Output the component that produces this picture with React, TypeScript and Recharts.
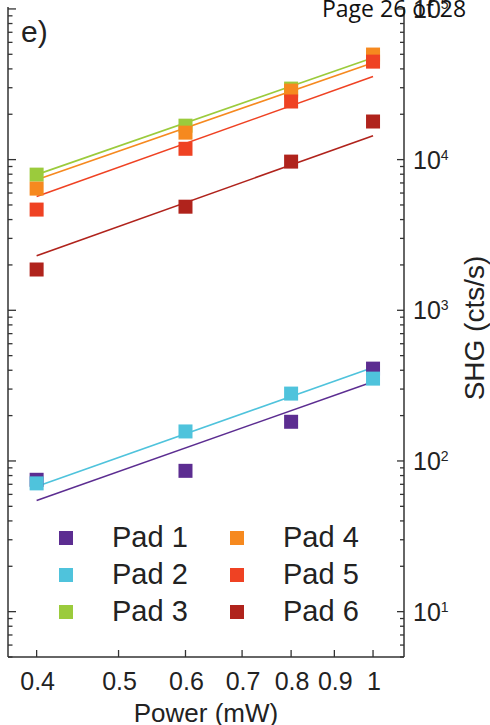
import { ComposedChart, Legend, Line, Scatter, XAxis, YAxis } from "recharts";

// measured powers (mW)
const powers = [0.4, 0.6, 0.8, 1];
// SHG counts per pad (cts/s)
const pad1 = [75, 86, 182, 410];
const pad2 = [71, 157, 280, 352];
const pad3 = [7950, 16800, 29600, 47500];
const pad4 = [6420, 15100, 28700, 49800];
const pad5 = [4660, 11800, 24300, 44700];
const pad6 = [1865, 4870, 9700, 17900];

// fit lines, drawn from the first to the last power
const fitPowers = [0.4, 1];
const fit1 = [54.6, 336];
const fit2 = [67.6, 417];
const fit3 = [7950, 47500];
const fit4 = [7360, 44000];
const fit5 = [5690, 35600];
const fit6 = [2300, 14400];

const names = ["Pad 1", "Pad 2", "Pad 3", "Pad 4", "Pad 5", "Pad 6"];
const colors = ["#5c2d91", "#4fc3dc", "#9bcb3c", "#f6891f", "#ef4223", "#b0231c"];

const xTicks = [0.4, 0.5, 0.6, 0.7, 0.8, 0.9, 1];
const yDecades = [10, 100, 1000, 10000, 100000];
const yMinorSteps = [2, 3, 4, 5, 6, 7, 8, 9];

const X_DOMAIN = [0.37, 1.088];
const Y_DOMAIN = [5, 103000];

const yTicks = [
  ...yDecades,
  ...[1, ...yDecades].flatMap((d) => yMinorSteps.map((m) => m * d)),
].filter((v) => v >= Y_DOMAIN[0] && v <= Y_DOMAIN[1]);

const toPoints = (xs: number[], ys: number[]) => xs.map((x, i) => ({ x, y: ys[i] }));

const pads = [pad1, pad2, pad3, pad4, pad5, pad6].map((ys) => toPoints(powers, ys));
const fits = [fit1, fit2, fit3, fit4, fit5, fit6].map((ys) => toPoints(fitPowers, ys));

const FONT = "'Liberation Sans', Arial, sans-serif";
const AXIS = "#333";

const isDecade = (v: number) => Math.abs(Math.log10(v) - Math.round(Math.log10(v))) < 1e-6;

const XTick = ({ x, y, payload }: any) => (
  <g>
    <line x1={x} x2={x} y1={y - 7} y2={y} stroke={AXIS} strokeWidth={1.3} />
    <text x={x + 1} y={y + 33} textAnchor="middle" fontSize={25} fontFamily={FONT} fill="#222">
      {String(payload.value)}
    </text>
  </g>
);

const RightTick = ({ x, y, payload }: any) => {
  const major = isDecade(payload.value);
  return (
    <g>
      <line x1={x - (major ? 7 : 4)} x2={x} y1={y} y2={y} stroke={AXIS} strokeWidth={1.3} />
      {major && (
        <text x={x + 9} y={y + 9} fontSize={25} fontFamily={FONT} fill="#222">
          10
          <tspan dy={-9} fontSize={14}>
            {Math.round(Math.log10(payload.value))}
          </tspan>
        </text>
      )}
    </g>
  );
};

const LeftTick = ({ x, y, payload }: any) => {
  const major = isDecade(payload.value);
  return <line x1={x} x2={x + (major ? 8 : 4.5)} y1={y} y2={y} stroke={AXIS} strokeWidth={1.3} />;
};

const SquareDot = ({ cx, cy, fill }: any) => (
  <rect x={cx - 7} y={cy - 7} width={14} height={14} fill={fill} />
);

const LegendGrid = ({ payload }: any) => (
  <div
    style={{
      display: "grid",
      gridTemplateRows: "repeat(3, 37px)",
      gridTemplateColumns: "171px auto",
      gridAutoFlow: "column",
      fontFamily: FONT,
      fontSize: 29,
      color: "#222",
      whiteSpace: "nowrap",
    }}
  >
    {(payload || [])
      .filter((entry: any) => names.includes(entry.value))
      .map((entry: any) => (
        <div key={entry.value} style={{ display: "flex", alignItems: "center" }}>
          <span style={{ width: 14, height: 14, background: entry.color, marginRight: 39 }} />
          <span>{entry.value}</span>
        </div>
      ))}
  </div>
);

export default function App() {
  return (
    <div style={{ position: "absolute", left: 0, top: 0, width: 490, height: 725, overflow: "hidden" }}>
      <ComposedChart width={490} height={725} margin={{ top: 7, right: 0, bottom: 0, left: 0 }}>
        <XAxis
          dataKey="x"
          type="number"
          scale="log"
          domain={X_DOMAIN}
          allowDataOverflow
          ticks={xTicks}
          interval={0}
          tickSize={0}
          tickMargin={0}
          tickLine={false}
          tick={<XTick />}
          height={68}
          axisLine={{ stroke: AXIS, strokeWidth: 1.5 }}
          label={{
            value: "Power (mW)",
            position: "insideBottom",
            offset: 3,
            fontSize: 26,
            fontFamily: FONT,
            fill: "#222",
          }}
        />
        <XAxis
          xAxisId="top"
          orientation="top"
          dataKey="x"
          type="number"
          scale="log"
          domain={X_DOMAIN}
          allowDataOverflow
          height={0}
          tick={false}
          tickLine={false}
          axisLine={{ stroke: AXIS, strokeWidth: 1.5 }}
        />
        <YAxis
          yAxisId="R"
          orientation="right"
          dataKey="y"
          type="number"
          scale="log"
          domain={Y_DOMAIN}
          allowDataOverflow
          ticks={yTicks}
          interval={0}
          tickSize={0}
          tickMargin={0}
          tickLine={false}
          tick={<RightTick />}
          width={86}
          axisLine={{ stroke: AXIS, strokeWidth: 1.5 }}
        />
        <YAxis
          yAxisId="L"
          orientation="left"
          type="number"
          scale="log"
          domain={Y_DOMAIN}
          allowDataOverflow
          ticks={yTicks}
          interval={0}
          tickSize={0}
          tickMargin={0}
          tickLine={false}
          tick={<LeftTick />}
          width={8}
          axisLine={{ stroke: AXIS, strokeWidth: 1.5 }}
        />
        {fits.map((data, i) => (
          <Line
            key={`fit-${i}`}
            yAxisId="R"
            data={data}
            dataKey="y"
            stroke={colors[i]}
            strokeWidth={1.6}
            dot={false}
            activeDot={false}
            legendType="none"
            isAnimationActive={false}
          />
        ))}
        {pads.map((data, i) => (
          <Scatter
            key={names[i]}
            name={names[i]}
            yAxisId="R"
            data={data}
            dataKey="y"
            fill={colors[i]}
            shape={<SquareDot />}
            legendType="square"
            isAnimationActive={false}
          />
        ))}
        <Legend
          layout="vertical"
          align="center"
          verticalAlign="middle"
          wrapperStyle={{ left: 59, top: 519, width: 330 }}
          content={<LegendGrid />}
        />
      </ComposedChart>
      <div
        style={{
          position: "absolute",
          left: 475,
          top: 328,
          width: 0,
          height: 0,
        }}
      >
        <div
          style={{
            position: "absolute",
            left: 0,
            top: 0,
            transform: "translate(-50%, -50%) rotate(-90deg)",
            fontFamily: FONT,
            fontSize: 28,
            lineHeight: "30px",
            color: "#222",
            whiteSpace: "nowrap",
          }}
        >
          SHG (cts/s)
        </div>
      </div>
      <div
        style={{
          position: "absolute",
          left: 21,
          top: 14,
          fontFamily: FONT,
          fontSize: 30,
          color: "#222",
          lineHeight: "36px",
        }}
      >
        e)
      </div>
      <div
        style={{
          position: "absolute",
          left: 322,
          top: -6,
          fontFamily: "'Open Sans', sans-serif",
          fontSize: 23,
          color: "#111",
          lineHeight: "28px",
          whiteSpace: "nowrap",
        }}
      >
        Page 26 of 28
      </div>
    </div>
  );
}
